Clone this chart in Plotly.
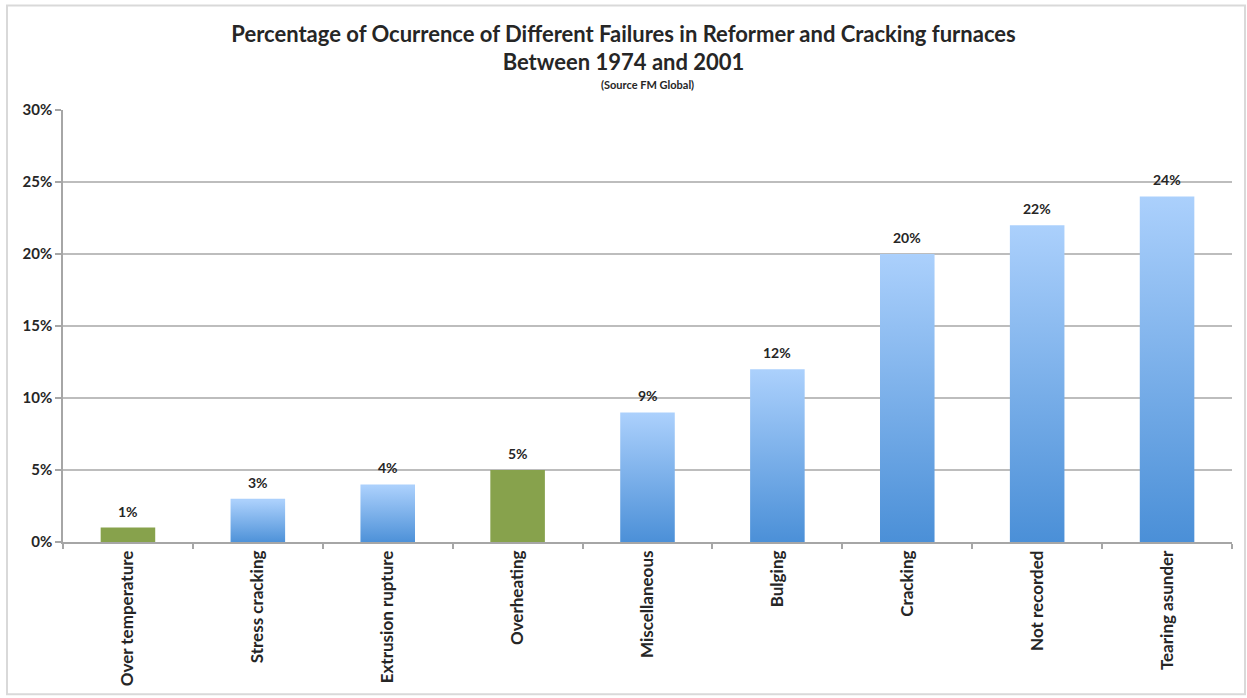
import plotly.graph_objects as go

categories = ["Over temperature", "Stress cracking", "Extrusion rupture", "Overheating",
              "Miscellaneous", "Bulging", "Cracking", "Not recorded", "Tearing asunder"]
values = [1, 3, 4, 5, 9, 12, 20, 22, 24]
is_green = [True, False, False, True, False, False, False, False, False]
y_ticks = [0, 5, 10, 15, 20, 25, 30]
y_tick_labels = ["0%", "5%", "10%", "15%", "20%", "25%", "30%"]

FONT = "Lato"
TXT = "#262626"
GREEN = "#87a24c"
BLUE_TOP = "#abd0fc"
BLUE_BOT = "#4a8fd7"
HALF = 0.21

fig = go.Figure()
for i, (v, g) in enumerate(zip(values, is_green)):
    xs = [i - HALF, i + HALF, i + HALF, i - HALF, i - HALF]
    ys = [0, 0, v, v, 0]
    if g:
        fig.add_trace(go.Scatter(x=xs, y=ys, mode="lines", fill="toself",
                                 fillcolor=GREEN, line=dict(width=0),
                                 hoverinfo="skip", showlegend=False))
    else:
        fig.add_trace(go.Scatter(x=xs, y=ys, mode="lines", fill="toself",
                                 fillgradient=dict(type="vertical", start=0, stop=v,
                                                   colorscale=[[0, BLUE_BOT], [1, BLUE_TOP]]),
                                 line=dict(width=0), hoverinfo="skip", showlegend=False))

annotations = [dict(x=i, y=v, xref="x", yref="y", text=f"<b>{v}%</b>", showarrow=False,
                    yanchor="bottom", yshift=6,
                    font=dict(family=FONT, size=14, color=TXT))
               for i, v in enumerate(values)]
annotations.append(dict(x=0.5, y=(544 - 84) / 434, xref="paper", yref="paper",
                        text="<b>(Source FM Global)</b>", showarrow=False,
                        xanchor="center", yanchor="middle",
                        font=dict(family=FONT, size=11, color=TXT)))

fig.update_layout(
    width=1247, height=698,
    margin=dict(l=63, r=15, t=110, b=154),
    paper_bgcolor="white", plot_bgcolor="white",
    title=dict(
        text="<b>Percentage of Ocurrence of Different Failures in Reformer and Cracking furnaces<br>"
             "Between 1974 and 2001</b>",
        x=0.5, xanchor="center", y=0.94, yanchor="top",
        font=dict(family=FONT, size=22, color=TXT)),
    annotations=annotations,
    xaxis=dict(range=[-0.5, 8.5], tickvals=list(range(len(categories))), ticktext=categories,
               tickangle=-90, ticks="", showgrid=False, zeroline=False,
               showline=True, linecolor="#a6a6a6", linewidth=1.5,
               tickfont=dict(family=FONT, size=17, color=TXT, weight="bold"),
               minor=dict(tickvals=[k - 0.5 for k in range(len(categories) + 1)],
                          ticks="outside", ticklen=5, tickcolor="#a6a6a6", tickwidth=1.5,
                          showgrid=False),
               fixedrange=True),
    yaxis=dict(range=[0, 30], tickvals=y_ticks, ticktext=y_tick_labels,
               showgrid=True, gridcolor="#bdbdbd", gridwidth=1.5, zeroline=False,
               showline=True, linecolor="#a6a6a6", linewidth=1.5,
               ticks="outside", ticklen=6, tickcolor="#a6a6a6", tickwidth=1.5,
               tickfont=dict(family=FONT, size=15, color=TXT, weight="bold"),
               fixedrange=True),
    shapes=[dict(type="rect", xref="paper", yref="paper",
                 x0=(7 - 63) / 1169, x1=(1245 - 63) / 1169,
                 y0=(544 - 697) / 434, y1=(544 - 5) / 434,
                 line=dict(color="#d9d9d9", width=2), fillcolor="rgba(0,0,0,0)",
                 layer="below")],
)

fig.write_html("out.html")
